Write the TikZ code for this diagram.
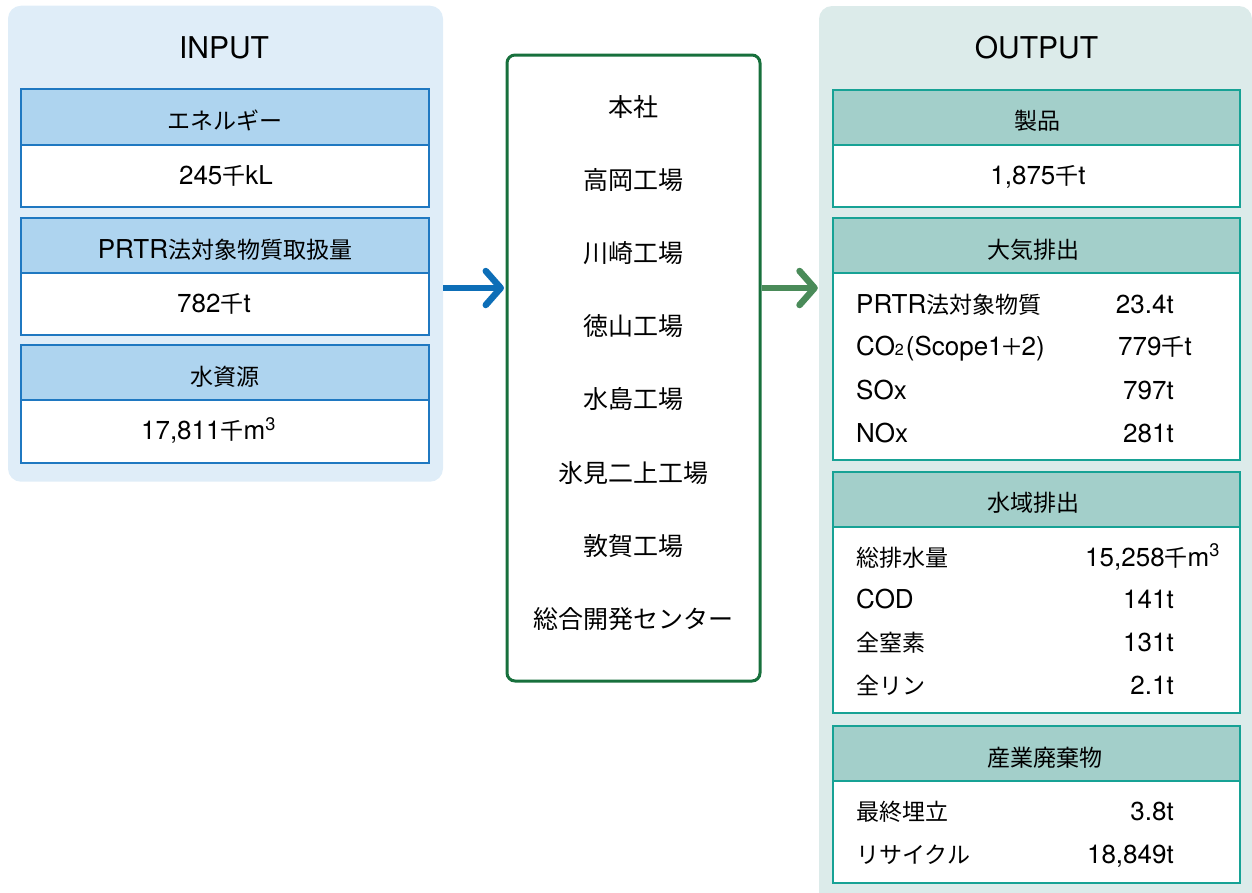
\documentclass[tikz,border=0pt]{standalone}
\usepackage{fontspec}
\setmainfont{TeX Gyre Heros}
\newfontfamily\jpf{Noto Sans CJK JP}[Scale=0.885]
\newcommand{\J}[1]{{\jpf #1}}
\usetikzlibrary{arrows.meta}
\definecolor{inbg}{HTML}{DFEDF8}
\definecolor{inhd}{HTML}{AED4EF}
\definecolor{inln}{HTML}{1F78C1}
\definecolor{outbg}{HTML}{DCEBEA}
\definecolor{outhd}{HTML}{A3CFCA}
\definecolor{outln}{HTML}{17A295}
\definecolor{midln}{HTML}{17703C}
\definecolor{arrblue}{HTML}{0D6EB7}
\definecolor{arrgreen}{HTML}{4A8B59}
\newcommand{\fsz}[1]{\fontsize{#1pt}{#1pt}\selectfont}
\begin{document}
\begin{tikzpicture}[x=1pt,y=-1pt,
  txt/.style={font=\fsz{26}, inner sep=0pt, text height=20pt, text depth=4pt},
  midtxt/.style={font=\fsz{28.25}\jpf, inner sep=0pt, text height=22pt, text depth=4pt},
  ttl/.style={font=\fsz{30}, inner sep=0pt},
  panelin/.style={fill=inbg, rounded corners=13pt, inner sep=0pt},
  panelout/.style={fill=outbg, rounded corners=13pt, inner sep=0pt},
  hdrin/.style={txt, draw=inln, fill=inhd, line width=2pt, minimum width=408pt, minimum height=55.5pt, text height=25pt, text depth=0pt},
  valin/.style={txt, draw=inln, fill=white, line width=2pt, minimum width=408pt, minimum height=62pt},
  hdrout/.style={txt, draw=outln, fill=outhd, line width=2pt, minimum width=407pt, minimum height=55pt, text height=25pt, text depth=0pt},
  hdrtxt/.style={txt, text height=25pt, text depth=0pt},
  valout/.style={txt, draw=outln, fill=white, line width=2pt, minimum width=407pt},
  midbox/.style={draw=midln, line width=3pt, rounded corners=8pt, fill=white, minimum width=253pt, minimum height=626pt, inner sep=0pt},
  lbl/.style={txt, anchor=west},
  numr/.style={txt, anchor=east},
  numl/.style={txt, anchor=west},
  flow/.style={line width=6.5pt, -{Straight Barb[length=15pt, width=34pt, round]}},
]
\useasboundingbox (0,0) rectangle (1252,892);
\clip (0,0) rectangle (1252,892);

% panels
\node[panelin, minimum width=435pt, minimum height=476pt] (inpanel) at (225.5,243.7) {};
\node[panelout, minimum width=433pt, minimum height=910pt] (outpanel) at (1035.5,461) {};
\node[ttl] (intitle) at (224,47.5) {INPUT};
\node[ttl] (outtitle) at (1036.5,47.5) {OUTPUT};

% input boxes
\node[valin] (i1v) at (225,176) {};
\node[hdrin] (i1h) at (225,117) {\J{エネルギー}};
\node[txt] (i1t) at (226,176) {245\J{千}kL};
\node[valin] (i2v) at (225,304) {};
\node[hdrin] (i2h) at (225,245.5) {PRTR\J{法対象物質取扱量}};
\node[txt] (i2t) at (214,304) {782\J{千}t};
\node[valin, minimum height=63pt] (i3v) at (225,431.5) {};
\node[hdrin] (i3h) at (225,372.5) {\J{水資源}};
\node[txt] (i3t) at (208.5,431.5) {17,811\J{千}m\textsuperscript{3}};

% middle box
\node[midbox] (mid) at (633.5,368) {};
\node[midtxt] (m1) at (633.5,107.5) {本社};
\node[midtxt] (m2) at (633.5,180.6) {高岡工場};
\node[midtxt] (m3) at (633.5,253.7) {川崎工場};
\node[midtxt] (m4) at (633.5,326.8) {徳山工場};
\node[midtxt] (m5) at (633.5,399.9) {水島工場};
\node[midtxt] (m6) at (633.5,473.0) {氷見二上工場};
\node[midtxt] (m7) at (633.5,546.1) {敦賀工場};
\node[midtxt] (m8) at (633.5,619.2) {総合開発センター};

% arrows
\coordinate (ay) at (0,288);
\draw[flow, draw=arrblue, shorten >=1.5pt] (inpanel.east |- ay) -- (mid.west |- ay);
\draw[flow, draw=arrgreen, shorten >=1pt] (mid.east |- ay) -- (outpanel.west |- ay);

% output: products
\node[valout, minimum height=62pt] (o1v) at (1036.5,176) {};
\node[hdrout] (o1h) at (1036.5,117) {};
\node[hdrtxt] (o1x) at (1037.5,117) {\J{製品}};
\node[txt] (o1t) at (1038,176) {1,875\J{千}t};

% output: air
\node[valout, minimum height=187pt] (o2v) at (1036.5,366.5) {};
\node[hdrout] (o2h) at (1036.5,245.5) {};
\node[hdrtxt] (o2x) at (1033.5,245.5) {\J{大気排出}};
\node[lbl] (a1) at (856,305) {PRTR\J{法対象物質}};
\node[numr] (a1n) at (1174,305) {23.4t};
\node[lbl] (a2) at (856,347.5) {CO{\fsz{16}2}\kern2pt(Scope1\kern-2pt\J{＋}\kern-2pt 2)};
\node[numl] (a2n) at (1118,347.5) {779\J{千}t};
\node[lbl] (a3) at (856,391) {SOx};
\node[numr] (a3n) at (1174,391) {797t};
\node[lbl] (a4) at (856,434) {NOx};
\node[numr] (a4n) at (1174,434) {281t};

% output: water
\node[valout, minimum height=187pt] (o3v) at (1036.5,619.5) {};
\node[hdrout] (o3h) at (1036.5,499) {};
\node[hdrtxt] (o3x) at (1033.5,499) {\J{水域排出}};
\node[lbl] (w1) at (856,558) {\J{総排水量}};
\node[numl] (w1n) at (1085,558) {15,258\J{千}m\textsuperscript{3}};
\node[lbl] (w2) at (856,600) {COD};
\node[numr] (w2n) at (1174,600) {141t};
\node[lbl] (w3) at (856,643) {\J{全窒素}};
\node[numr] (w3n) at (1174,643) {131t};
\node[lbl] (w4) at (856,686) {\J{全リン}};
\node[numr] (w4n) at (1174,686) {2.1t};

% output: waste
\node[valout, minimum height=102pt] (o4v) at (1036.5,832) {};
\node[hdrout] (o4h) at (1036.5,753.5) {};
\node[hdrtxt] (o4x) at (1045,753.5) {\J{産業廃棄物}};
\node[lbl] (s1) at (856,812) {\J{最終埋立}};
\node[numr] (s1n) at (1174,812) {3.8t};
\node[lbl] (s2) at (856,855) {\J{リサイクル}};
\node[numr] (s2n) at (1174,855) {18,849t};
\end{tikzpicture}
\end{document}
